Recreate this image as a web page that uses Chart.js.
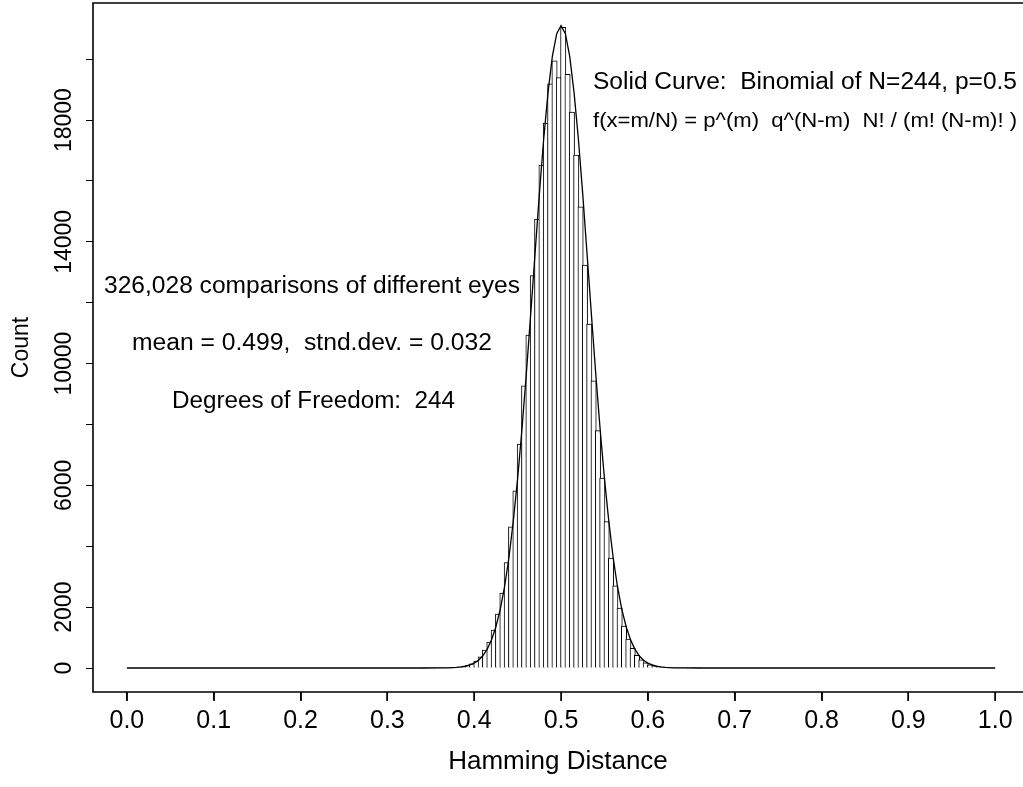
<!DOCTYPE html>
<html>
<head>
<meta charset="utf-8">
<script src="https://cdn.jsdelivr.net/npm/chart.js@4.4.1/dist/chart.umd.min.js"></script>
<style>
  body { margin: 0; background: #fff; }
  canvas { display: block; }
</style>
</head>
<body>
<canvas id="histChart" width="1023" height="787"></canvas>
<script>
// histogram bins (left edge of each 0.005 wide bin) and counts
var binStart = [0.340,0.345,0.350,0.355,0.360,0.365,0.370,0.375,0.380,0.385,0.390,0.395,
    0.400,0.405,0.410,0.415,0.420,0.425,0.430,0.435,0.440,0.445,0.450,0.455,
    0.460,0.465,0.470,0.475,0.480,0.485,0.490,0.495,0.500,0.505,0.510,0.515,
    0.520,0.525,0.530,0.535,0.540,0.545,0.550,0.555,0.560,0.565,0.570,0.575,
    0.580,0.585,0.590,0.595,0.600,0.605,0.610,0.615,0.620,0.625,0.630,0.635,
    0.640,0.645,0.650,0.655];
var binCounts = [1,2,3,4,6,9,14,21,32,50,80,140,
    230,370,590,850,1250,1770,2460,3460,4640,5820,7360,9270,
    10940,12890,14750,16520,17900,19190,19950,19400,21050,19500,18260,16850,
    15150,13240,11300,9430,7800,6240,4810,3610,2700,1970,1380,950,
    650,420,270,170,105,65,40,25,15,9,6,4,
    3,2,1,1];
var binWidth = 0.005;

// binomial curve
var curveX = [0.0,0.34,0.36,0.37,0.38,0.385,0.39,0.395,0.40,0.405,0.41,0.415,0.42,0.425,
    0.43,0.435,0.44,0.445,0.45,0.455,0.46,0.465,0.47,0.475,0.48,0.485,0.49,0.495,
    0.50,0.505,0.51,0.515,0.52,0.525,0.53,0.535,0.54,0.545,0.55,0.555,0.56,0.565,
    0.57,0.575,0.58,0.585,0.59,0.595,0.60,0.605,0.61,0.615,0.62,0.63,0.64,0.66,1.0];
var curveY = [0,0,2,6,19,35,58,100,160,257,403,620,927,1355,
    1925,2670,3630,4820,6220,7850,9660,11600,13590,15560,17370,18900,20090,20840,
    21100,20840,20090,18900,17370,15560,13590,11600,9660,7850,6220,4820,3630,2670,
    1925,1355,927,620,403,257,160,100,58,35,19,6,2,0,0];

var xTicks = [0.0,0.1,0.2,0.3,0.4,0.5,0.6,0.7,0.8,0.9,1.0];
var yTicks = [0,2000,4000,6000,8000,10000,12000,14000,16000,18000,20000];
var yTickLabels = [0,2000,6000,10000,14000,18000];

// text notes: left x, middle y, font size, width in the picture
var notes = [
    {text: 'Solid Curve:  Binomial of N=244, p=0.5', x: 593, y: 83, size: 23, w: 424},
    {text: 'f(x=m/N) = p^(m)  q^(N-m)  N! / (m! (N-m)! )', x: 593, y: 121, size: 20, w: 424},
    {text: '326,028 comparisons of different eyes', x: 104, y: 287, size: 23, w: 416},
    {text: 'mean = 0.499,  stnd.dev. = 0.032', x: 132, y: 344, size: 23, w: 360},
    {text: 'Degrees of Freedom:  244', x: 172, y: 402, size: 23, w: 283}
];

var FONT = 'Liberation Sans, Arial, sans-serif';

var barData = binStart.map(function(b, i) { return {x: b + binWidth / 2, y: binCounts[i]}; });
var lineData = curveX.map(function(v, i) { return {x: v, y: curveY[i]}; });

function drawXTicks(chart) {
    var c = chart.ctx, a = chart.chartArea, xs = chart.scales.x;
    c.save();
    c.setLineDash([]);
    c.globalAlpha = 1;
    c.globalCompositeOperation = 'source-over';
    c.fillStyle = '#000';
    xTicks.forEach(function(v) {
        var px = Math.round(xs.getPixelForValue(v));
        c.fillRect(px - 0.5, a.bottom, 1.2, 9);
    });
    c.restore();
}

var framePlugin = {
    id: 'frame',
    beforeDatasetsDraw: function(chart) {
        drawXTicks(chart);
    },
    afterDraw: function(chart) {
        var c = chart.ctx, a = chart.chartArea, ys = chart.scales.y;
        c.save();
        c.strokeStyle = '#000';
        c.lineWidth = 1.6;
        c.beginPath();
        c.moveTo(1030, a.top);
        c.lineTo(a.left, a.top);
        c.lineTo(a.left, a.bottom);
        c.lineTo(1030, a.bottom);
        c.stroke();

        // rotated y tick labels
        c.fillStyle = '#000';
        c.font = '23px ' + FONT;
        c.textAlign = 'center';
        c.textBaseline = 'middle';
        yTickLabels.forEach(function(v) {
            var py = ys.getPixelForValue(v);
            c.save();
            c.translate(65, py);
            c.rotate(-Math.PI / 2);
            c.fillText(String(v), 0, 0);
            c.restore();
        });

        // text notes, stretched a little sideways like the picture
        c.textAlign = 'left';
        notes.forEach(function(n) {
            c.font = n.size + 'px ' + FONT;
            var sx = n.w / c.measureText(n.text).width;
            c.save();
            c.translate(n.x, n.y);
            c.scale(sx, 1);
            c.fillText(n.text, 0, 0);
            c.restore();
        });
        c.restore();
    },
    afterRender: function(chart) {
        drawXTicks(chart);
    }
};

var ctx = document.getElementById('histChart').getContext('2d');

var histChart = new Chart(ctx, {
    type: 'bar',
    data: {
        datasets: [{
            type: 'line',
            data: lineData,
            borderColor: '#000',
            borderWidth: 1.3,
            pointRadius: 0,
            tension: 0,
            order: 0
        }, {
            type: 'bar',
            data: barData,
            backgroundColor: '#fff',
            borderColor: '#000',
            borderWidth: 1,
            barThickness: 5.34,
            grouped: false,
            order: 1
        }]
    },
    options: {
        responsive: false,
        animation: false,
        events: [],
        layout: { padding: { top: 3, right: 0, left: 0, bottom: 0 } },
        plugins: {
            legend: { display: false },
            tooltip: { enabled: false }
        },
        scales: {
            x: {
                type: 'linear',
                min: -0.039,
                max: 1.032,
                offset: false,
                afterBuildTicks: function(scale) {
                    scale.ticks = xTicks.map(function(v) { return {value: v}; });
                },
                afterFit: function(scale) { scale.height = 95; },
                border: { display: false },
                grid: { display: true, offset: false, drawOnChartArea: false, drawTicks: true, tickLength: 8, color: '#000', tickColor: '#000', lineWidth: 1 },
                ticks: {
                    color: '#000',
                    padding: 6,
                    maxRotation: 0,
                    font: { family: FONT, size: 25 },
                    callback: function(v) { return v.toFixed(1); }
                },
                title: {
                    display: true,
                    text: 'Hamming Distance',
                    color: '#000',
                    font: { family: FONT, size: 26 },
                    padding: { top: 0, bottom: 10 }
                }
            },
            y: {
                type: 'linear',
                min: -788,
                max: 21846,
                afterBuildTicks: function(scale) {
                    scale.ticks = yTicks.map(function(v) { return {value: v}; });
                },
                afterFit: function(scale) { scale.width = 93; },
                border: { display: false },
                grid: { drawOnChartArea: false, drawTicks: true, tickLength: 7, color: '#000', lineWidth: 1 },
                ticks: { display: false },
                title: {
                    display: true,
                    text: 'Count',
                    color: '#000',
                    font: { family: FONT, size: 23 },
                    padding: { top: 8, bottom: 0 }
                }
            }
        }
    },
    plugins: [framePlugin]
});
</script>
</body>
</html>
